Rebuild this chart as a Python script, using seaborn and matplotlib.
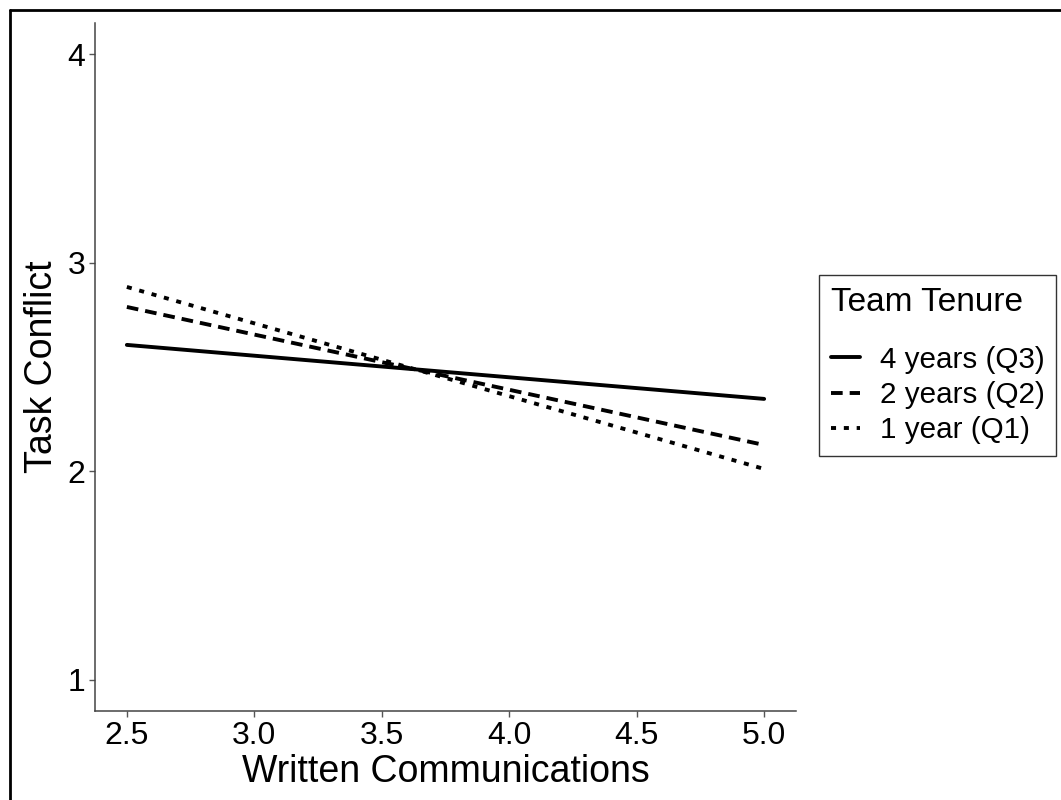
import matplotlib.pyplot as plt
import matplotlib.lines as mlines
import pandas as pd
import seaborn as sns

sns.set_theme(style='white')
plt.rcParams['font.family'] = ['Liberation Sans', 'DejaVu Sans']
plt.rcParams['text.color'] = 'black'
plt.rcParams['axes.labelcolor'] = 'black'

# simple slopes: predicted Task Conflict at low / high Written Communications
x_vals = [2.5, 5.0]
groups = ['4 years (Q3)', '2 years (Q2)', '1 year (Q1)']
q3_vals = [2.606, 2.347]
q2_vals = [2.788, 2.126]
q1_vals = [2.884, 2.011]

df = pd.DataFrame({
    'Written Communications': x_vals * 3,
    'Task Conflict': q3_vals + q2_vals + q1_vals,
    'Team Tenure': [g for g in groups for _ in x_vals],
})

fig = plt.figure(figsize=(10.61, 8), dpi=100)
ax = fig.add_axes([95 / 1061, 1 - 711 / 800, (796 - 95) / 1061, (711 - 23) / 800])

lw = 2.8
dash_map = {groups[0]: '', groups[1]: (3.0, 1.8), groups[2]: (1.3, 2.0)}
sns.lineplot(data=df, x='Written Communications', y='Task Conflict', style='Team Tenure',
             style_order=groups, dashes=dash_map, color='black', linewidth=lw, ax=ax, legend=False)

ax.set_xlim(2.375, 5.125)
ax.set_ylim(0.85, 4.15)
ax.set_xticks([2.5, 3.0, 3.5, 4.0, 4.5, 5.0])
ax.set_xticklabels(['2.5', '3.0', '3.5', '4.0', '4.5', '5.0'])
ax.set_yticks([1, 2, 3, 4])
ax.tick_params(axis='both', which='major', labelsize=23, length=4, width=1, color='#555555',
               labelcolor='black', direction='out', bottom=True, left=True, pad=3)
for side in ['top', 'right']:
    ax.spines[side].set_visible(False)
for side in ['left', 'bottom']:
    ax.spines[side].set_color('#444444')
    ax.spines[side].set_linewidth(1.1)
ax.set_xlabel('Written Communications', fontsize=27, labelpad=2)
ax.set_ylabel('Task Conflict', fontsize=27, labelpad=5)
ax.grid(False)

handles = [mlines.Line2D([], [], color='black', linewidth=lw, linestyle='-')]
for g in groups[1:]:
    handles.append(mlines.Line2D([], [], color='black', linewidth=lw, linestyle='-', dashes=dash_map[g]))
leg = fig.legend(handles, groups, title='Team Tenure', loc='upper left',
                 bbox_to_anchor=(819 / 1061, 1 - 275 / 800), fontsize=21.3, title_fontsize=24,
                 frameon=True, fancybox=False, edgecolor='black', handlelength=1.0,
                 handletextpad=0.65, labelspacing=0.25, borderpad=0.4, borderaxespad=0,
                 alignment='left')
leg._legend_box.sep = 20
leg.get_frame().set_linewidth(1.0)

# outer border of the exported figure
fig.add_artist(mlines.Line2D([10 / 1061, 10 / 1061], [0, 1 - 10 / 800], transform=fig.transFigure,
                             color='black', linewidth=2))
fig.add_artist(mlines.Line2D([10 / 1061, 1], [1 - 10 / 800, 1 - 10 / 800], transform=fig.transFigure,
                             color='black', linewidth=2))

fig.savefig('out.png', dpi=100)
